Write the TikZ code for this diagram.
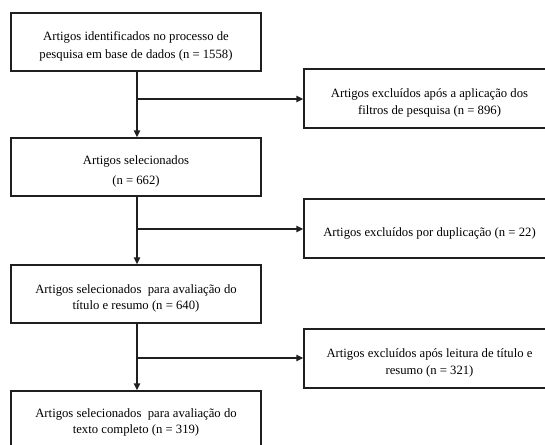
\documentclass[tikz,border=0pt]{standalone}
\usepackage{fontspec}
\setmainfont{Liberation Serif}
\usetikzlibrary{arrows.meta,calc}
\begin{document}
\begin{tikzpicture}[x=1pt,y=-1pt,
  box/.style={draw=black!88,line width=1.4pt,minimum width=250pt,inner sep=0pt},
  lbox/.style={box,minimum height=58pt},
  rbox/.style={box,minimum width=251pt,minimum height=59pt},
  txt/.style={align=center,font=\fontsize{12.7}{17.5}\selectfont,inner sep=0pt,yshift=-4.5pt},
  conn/.style={draw=black!88,line width=1.4pt},
  arr/.style={conn,-{Triangle[length=7pt,width=6.5pt]}}]
\useasboundingbox (0,0) rectangle (545,444);
\clip (0,0) rectangle (545,444);
\fill[white] (0,0) rectangle (545,444);
\node[lbox] (b1) at (136,42) {};
\node[txt] (t1) at (b1.center) {Artigos identificados no processo de\\pesquisa em base de dados (n = 1558)};
\node[rbox] (b2) at (429.5,98.5) {};
\node[txt] (t2) at (b2.center) {Artigos excluídos após a aplicação dos\\filtros de pesquisa (n = 896)};
\node[lbox] (b3) at (136,167) {};
\node[txt] (t3) at (b3.center) {Artigos selecionados\\[3pt](n = 662)};
\node[rbox] (b4) at (429.5,228.5) {};
\node[txt] (t4) at (b4.center) {Artigos excluídos por duplicação (n = 22)};
\node[lbox] (b5) at (136,294) {};
\node[txt] (t5) at (b5.center) {Artigos selecionados\ \ para avaliação do\\[-1pt]título e resumo (n = 640)};
\node[rbox] (b6) at (429.5,358.5) {};
\node[txt] (t6) at (b6.center) {Artigos excluídos após leitura de título e\\resumo (n = 321)};
\node[lbox] (b7) at (136,420) {};
\node[txt,anchor=north,yshift=4.5pt] (t7) at (136,408) {Artigos selecionados\ \ para avaliação do\\[-1pt]texto completo (n = 319)};
\coordinate (j1) at (137,99);
\coordinate (j2) at (137,229);
\coordinate (j3) at (137,358);
\draw[arr] (b1.south -| j1) -- (b3.north -| j1);
\draw[arr] (j1) -- (j1 -| b2.west);
\draw[arr] (b3.south -| j2) -- (b5.north -| j2);
\draw[arr] (j2) -- (j2 -| b4.west);
\draw[arr] (b5.south -| j3) -- (b7.north -| j3);
\draw[arr] (j3) -- (j3 -| b6.west);
\end{tikzpicture}
\end{document}
